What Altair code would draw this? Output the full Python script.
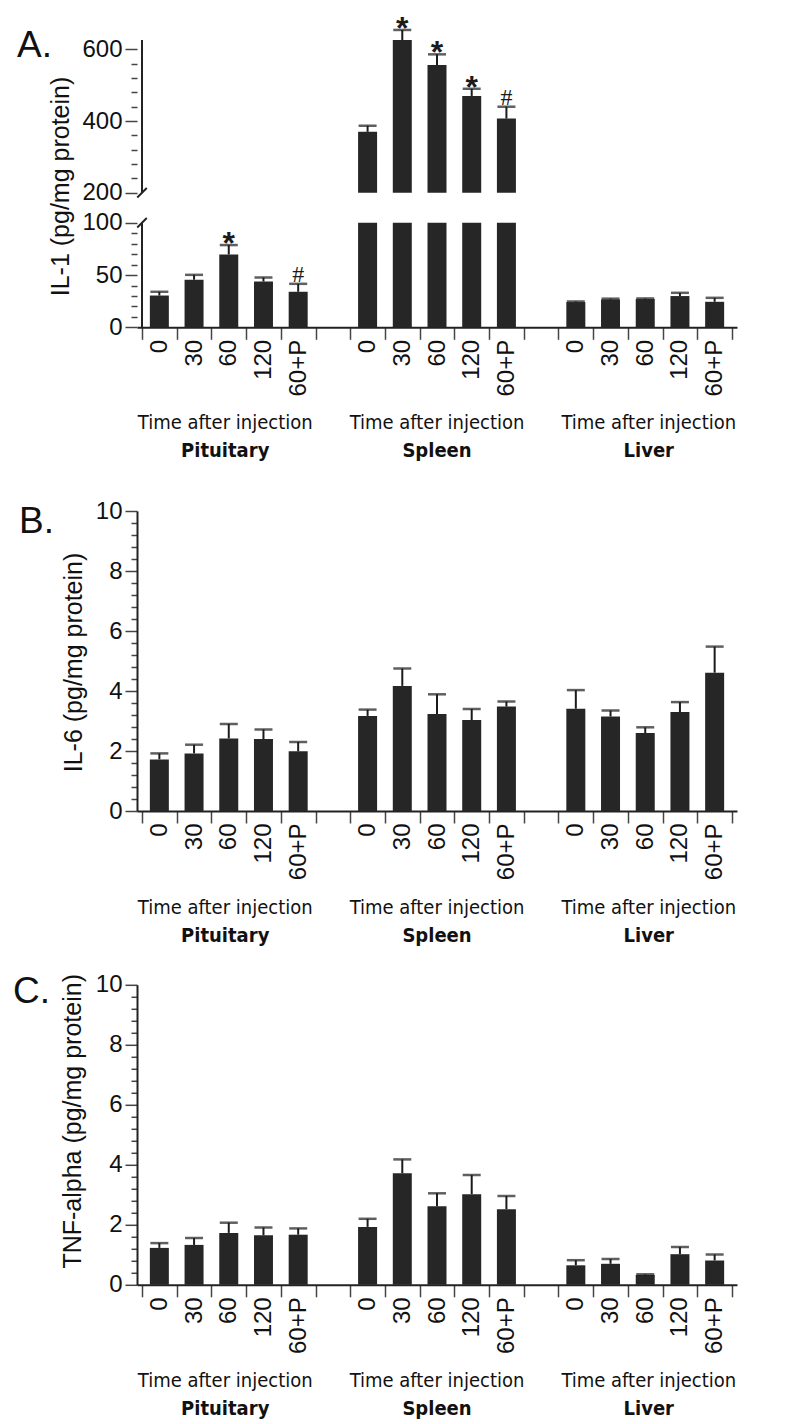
import json
import altair as alt
import pandas as pd

# ---------------- data ----------------
organs = ["Pituitary", "Spleen", "Liver"]
times = ["0", "30", "60", "120", "60+P"]
caption = "Time after injection"
panel_letters = ["A.", "B.", "C."]

il1_mean = [30.4, 45.5, 69.7, 43.8, 34.0, 370, 626, 556, 470, 407, 24.1, 26.6, 27.0, 29.9, 24.4]
il1_err = [3.6, 4.7, 9.0, 3.9, 7.6, 17, 28, 30, 20, 33, 0.6, 0.8, 0.6, 3.1, 3.8]
il1_sig = ["", "", "*", "", "#", "", "*", "*", "*", "#", "", "", "", "", ""]

il6_mean = [1.72, 1.92, 2.42, 2.40, 1.99, 3.17, 4.17, 3.23, 3.03, 3.48, 3.41, 3.15, 2.60, 3.30, 4.61]
il6_err = [0.20, 0.29, 0.48, 0.32, 0.31, 0.21, 0.58, 0.66, 0.37, 0.17, 0.62, 0.20, 0.19, 0.33, 0.87]

tnf_mean = [1.23, 1.33, 1.73, 1.65, 1.67, 1.93, 3.72, 2.62, 3.02, 2.52, 0.65, 0.70, 0.33, 1.02, 0.81]
tnf_err = [0.16, 0.23, 0.34, 0.26, 0.21, 0.27, 0.46, 0.43, 0.64, 0.44, 0.17, 0.16, 0.02, 0.24, 0.20]

il1_major = [0, 50, 100, 200, 400, 600]
il1_ticks = list(range(0, 101, 10)) + list(range(200, 601, 40))
il1_break = [0, 100, 200, 626]
small_ticks = [round(k * 0.4, 1) for k in range(26)]
small_domain = [0, 10]

# ---------------- helpers ----------------
NT = len(times)
SLOTS = len(organs) * (NT + 1) - 1
W = 600
BAR = "#262626"
INK = "#1b1b1b"
FONT = "Liberation Sans"
NARROW = "'Liberation Sans Narrow', 'DejaVu Sans Condensed', 'Liberation Sans', sans-serif"

# pixel layout of the broken IL-1 axis (lower piece, gap, upper piece)
HA = 287.3
A_RANGE = [HA, HA - 104.5, HA - 134.5, 0]


def bar_frame(means, errs, sig=None):
    rows = []
    for k, (m, e) in enumerate(zip(means, errs)):
        g, t = divmod(k, NT)
        slot = g * (NT + 1) + t
        rows.append({"organ": organs[g], "time": times[t], "xc": slot + 0.5,
                     "mean": m, "top": m + e, "sig": sig[k] if sig else ""})
    return pd.DataFrame(rows)


xscale = alt.Scale(domain=[0, SLOTS], nice=False, zero=False)
label_arr = json.dumps(times + [""])
x_axis = alt.Axis(
    values=[i / 2 for i in range(2 * SLOTS + 1)],
    labelExpr=f"datum.value % 1 == 0.5 ? {label_arr}[floor(datum.value) % {NT + 1}] : ''",
    tickOpacity={"condition": {"test": "datum.value % 1 != 0", "value": 0}, "value": 1},
    tickSize=12, labelAngle=270, labelAlign="right", labelBaseline="middle",
    labelPadding=0, labelOverlap=False, labelFlush=False, labelBound=False,
    title=None, grid=False,
)


def X(field):
    return alt.X(field, type="quantitative", scale=xscale, axis=x_axis)


def y_axis(title, values, major_test, title_pad, title_y, domain=True):
    return alt.Axis(
        title=title, values=values,
        labelExpr=f"{major_test} ? ('' + datum.value) : ''",
        tickSize={"condition": {"test": f"!({major_test})", "value": 6}, "value": 12},
        labelPadding=3, labelFlush=False, labelOverlap=False, grid=False, domain=domain,
        titlePadding=title_pad, titleY=title_y,
    )


def bars_layers(df, yscale, yaxis, lower=None):
    base = alt.Chart(df)

    def Y(field):
        return alt.Y(field, type="quantitative", scale=yscale, axis=yaxis)

    layers = []
    if lower is None:
        layers.append(base.mark_bar(size=19, color=BAR).encode(x=X("xc"), y=Y("mean"), y2=alt.datum(0)))
    else:
        layers.append(base.mark_bar(size=19, color=BAR).encode(x=X("xc"), y=Y("low"), y2=alt.datum(0)))
        layers.append(base.transform_filter("isValid(datum.high)").mark_bar(size=19, color=BAR)
                      .encode(x=X("xc"), y=Y("high"), y2=alt.datum(lower)))
    layers.append(base.mark_rule(color=INK, strokeWidth=2).encode(x=X("xc"), y=Y("mean"), y2="top:Q"))
    layers.append(base.mark_tick(orient="horizontal", size=18, thickness=2.5, color=INK)
                  .encode(x=X("xc"), y=Y("top")))
    return layers, Y


def letter_layer(text, y_top, Y, dx, dy):
    df = pd.DataFrame({"x": [0], "y": [y_top], "t": [text]})
    return (alt.Chart(df).mark_text(font=FONT, fontSize=37, align="left", baseline="top",
                                    dx=dx, dy=dy, color="#111")
            .encode(x=X("x"), y=Y("y"), text="t:N"))


# ---------------- Panel A (broken axis) ----------------
dfA = bar_frame(il1_mean, il1_err, il1_sig)
dfA["low"] = dfA["mean"].clip(upper=il1_break[1])
dfA["high"] = dfA["mean"].where(dfA["mean"] > il1_break[2])

yA_scale = alt.Scale(domain=il1_break, range=A_RANGE, zero=False, nice=False)
yA_axis = y_axis("IL-1 (pg/mg protein)", il1_ticks,
                 f"indexof({json.dumps(il1_major)}, datum.value) >= 0", 8, 146, domain=False)
layersA, YA = bars_layers(dfA, yA_scale, yA_axis, lower=il1_break[2])

seg_df = pd.DataFrame({"x": [0, 0], "y": [il1_break[0], il1_break[2]], "y2": [il1_break[1], il1_break[3]]})
layersA.insert(0, alt.Chart(seg_df).mark_rule(color="#222", strokeWidth=2)
               .encode(x=X("x"), y=YA("y"), y2="y2:Q"))
brk_df = pd.DataFrame({"x": [0, 0], "y": [il1_break[1], il1_break[2]]})
layersA.append(alt.Chart(brk_df).mark_point(shape="M -1 1 L 1 -1", size=90, filled=False,
                                             strokeWidth=2, color="#222", opacity=1)
               .encode(x=X("x"), y=YA("y")))
layersA.append(alt.Chart(dfA).transform_filter("datum.sig == '*'")
               .mark_text(text="*", font=FONT, fontSize=32, fontWeight="bold", baseline="alphabetic",
                          dy=9, color=INK)
               .encode(x=X("xc"), y=YA("top")))
layersA.append(alt.Chart(dfA).transform_filter("datum.sig == '#'")
               .mark_text(text="#", font="Liberation Serif", fontSize=24, baseline="alphabetic", dy=-2, color=INK)
               .encode(x=X("xc"), y=YA("top")))
layersA.append(letter_layer(panel_letters[0], il1_break[-1], YA, -125, -12))

panelA = alt.layer(*layersA).properties(width=W, height=HA)

# ---------------- Panels B and C ----------------
y10 = alt.Scale(domain=small_domain, nice=False, zero=False)
major10 = "abs(datum.value - 2 * round(datum.value / 2)) < 0.01"

dfB = bar_frame(il6_mean, il6_err)
layersB, YB = bars_layers(dfB, y10, y_axis("IL-6 (pg/mg protein)", small_ticks, major10, 9, 151))
layersB.append(letter_layer(panel_letters[1], small_domain[1], YB, -123, -7))
panelB = alt.layer(*layersB).properties(width=W, height=300)

dfC = bar_frame(tnf_mean, tnf_err)
layersC, YC = bars_layers(dfC, y10, y_axis("TNF-alpha (pg/mg protein)", small_ticks, major10, 10, 136))
layersC.append(letter_layer(panel_letters[2], small_domain[1], YC, -129, -11))
panelC = alt.layer(*layersC).properties(width=W, height=300)

# ---------------- group captions ----------------
rows = []
for g, name in enumerate(organs):
    centre = g * (NT + 1) + NT / 2
    rows.append({"xc": centre, "row": "time", "label": caption})
    rows.append({"xc": centre, "row": "organ", "label": name})
strip_df = pd.DataFrame(rows)


def strip():
    ys = alt.Y("row:N", scale=alt.Scale(domain=["time", "organ"]), axis=None)
    xs = alt.X("xc:Q", scale=xscale, axis=None)
    t1 = (alt.Chart(strip_df).transform_filter("datum.row == 'time'")
          .mark_text(font=NARROW, fontSize=20, color="#111", baseline="middle")
          .encode(x=xs, y=ys, text="label:N"))
    t2 = (alt.Chart(strip_df).transform_filter("datum.row == 'organ'")
          .mark_text(font=NARROW, fontSize=20, fontWeight="bold", color="#111", baseline="middle")
          .encode(x=xs, y=ys, text="label:N"))
    return alt.layer(t1, t2).properties(width=W, height=56)


blockA = alt.vconcat(panelA, strip(), spacing=12)
blockB = alt.vconcat(panelB, strip(), spacing=13.5)
blockC = alt.vconcat(panelC, strip(), spacing=13.5)

chart = (
    alt.vconcat(alt.vconcat(blockA, blockB, spacing=34), blockC, spacing=22.8)
    .properties(padding={"left": 5, "top": 4, "right": 5, "bottom": 0})
    .configure_view(strokeWidth=0)
    .configure_axis(domainColor="#222", domainWidth=2, tickColor="#444", tickWidth=1.5,
                    labelColor="#111", labelFont=FONT, labelFontSize=24,
                    titleFont=FONT, titleFontSize=25, titleFontWeight="normal", titleColor="#111")
)

chart.save("out.html", embed_options={"renderer": "svg", "actions": False})
